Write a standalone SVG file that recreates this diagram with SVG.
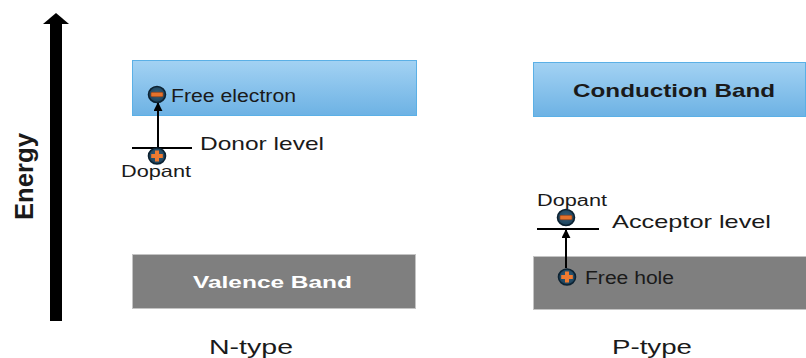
<svg xmlns="http://www.w3.org/2000/svg" width="806" height="358" viewBox="0 0 806 358">
  <defs>
    <linearGradient id="cbFill" x1="0" y1="0" x2="0" y2="1">
      <stop offset="0" stop-color="#a3d2f3"/>
      <stop offset="1" stop-color="#6db2e4"/>
    </linearGradient>
    <radialGradient id="chargeFill" cx="0.5" cy="0.45" r="0.6">
      <stop offset="0" stop-color="#33627f"/>
      <stop offset="1" stop-color="#1a3d55"/>
    </radialGradient>
    <marker id="tip" viewBox="0 0 10 10" refX="9" refY="5" markerWidth="4.5" markerHeight="4.5" orient="auto">
      <path d="M0,0 L10,5 L0,10 z" fill="#000"/>
    </marker>
    <!-- negative charge: dark disc with an orange bar -->
    <g id="neg">
      <ellipse cx="0" cy="0" rx="8.5" ry="8" fill="url(#chargeFill)" stroke="#0c2232" stroke-width="1.6"/>
      <rect x="-6" y="-2.2" width="12" height="4.4" rx="1" fill="#e4722c" stroke="#8f3c12" stroke-width="0.6"/>
    </g>
    <!-- positive charge: dark disc with an orange cross -->
    <g id="pos">
      <ellipse cx="0" cy="0" rx="8.5" ry="8" fill="url(#chargeFill)" stroke="#0c2232" stroke-width="1.6"/>
      <path d="M-2,-5.5 h4 v3.5 h3.8 v4 h-3.8 v3.5 h-4 v-3.5 h-3.8 v-4 h3.8 z" fill="#ee7a30"/>
    </g>
  </defs>
  <style>
    text { font-family: "Liberation Sans", Arial, sans-serif; fill: #1a1a1a; }
    .band-label { font-weight: bold; }
    .cb { fill: url(#cbFill); stroke: #5bb0e6; stroke-width: 1; }
    .vb { fill: #7f7f7f; stroke: #c4c4c4; stroke-width: 1; }
    .level { stroke: #000; stroke-width: 2; }
    .jump { stroke: #000; stroke-width: 2; fill: none; marker-end: url(#tip); }
  </style>

  <rect width="806" height="358" fill="#ffffff"/>

  <!-- energy axis -->
  <g id="energy-axis">
    <rect x="50" y="23" width="12" height="298" fill="#000"/>
    <polygon points="43,24 56,13 69,24" fill="#000"/>
    <text transform="translate(33,220) rotate(-90)" font-size="26" font-weight="bold" textLength="87" lengthAdjust="spacingAndGlyphs">Energy</text>
  </g>

  <!-- n-type bands -->
  <g id="n-conduction-band">
    <rect class="cb" x="132.5" y="60.5" width="284" height="55"/>
  </g>
  <g id="n-valence-band">
    <rect class="vb" x="132.5" y="254.5" width="283" height="54"/>
    <text class="band-label" x="193" y="288" font-size="16.5" style="fill:#ffffff" textLength="159" lengthAdjust="spacingAndGlyphs">Valence Band</text>
  </g>
  <g id="donor-level">
    <line class="level" x1="132" y1="148" x2="192" y2="148"/>
    <text x="200" y="150" font-size="18.5" textLength="124" lengthAdjust="spacingAndGlyphs">Donor level</text>
  </g>

  <!-- p-type bands -->
  <g id="p-conduction-band">
    <rect class="cb" x="533.5" y="62.5" width="272" height="54"/>
    <text class="band-label" x="573" y="97" font-size="19" textLength="202" lengthAdjust="spacingAndGlyphs">Conduction Band</text>
  </g>
  <g id="p-valence-band">
    <rect class="vb" x="533.5" y="256.5" width="273" height="53"/>
  </g>
  <g id="acceptor-level">
    <line class="level" x1="537" y1="229" x2="599" y2="229"/>
    <text x="612" y="228" font-size="18.5" textLength="159" lengthAdjust="spacingAndGlyphs">Acceptor level</text>
  </g>

  <!-- transitions -->
  <g id="connectors">
    <line class="jump" x1="158" y1="148" x2="158" y2="103"/>
    <line class="jump" x1="566" y1="268" x2="566" y2="230"/>
  </g>

  <!-- charges -->
  <g id="free-electron">
    <use href="#neg" x="157" y="94.5"/>
    <text x="171" y="102" font-size="17.5" textLength="125" lengthAdjust="spacingAndGlyphs">Free electron</text>
  </g>
  <g id="n-dopant">
    <use href="#pos" x="157" y="156"/>
    <text x="121" y="177" font-size="16.5" textLength="70" lengthAdjust="spacingAndGlyphs">Dopant</text>
  </g>
  <g id="p-dopant">
    <use href="#neg" x="566" y="217.5"/>
    <text x="537" y="206" font-size="16" textLength="70" lengthAdjust="spacingAndGlyphs">Dopant</text>
  </g>
  <g id="free-hole">
    <use href="#pos" x="567" y="277"/>
    <text x="585" y="284" font-size="17.5" textLength="89" lengthAdjust="spacingAndGlyphs">Free hole</text>
  </g>

  <!-- captions -->
  <g id="n-type-caption">
    <text x="209" y="354" font-size="20" textLength="84" lengthAdjust="spacingAndGlyphs">N-type</text>
  </g>
  <g id="p-type-caption">
    <text x="612" y="354" font-size="20" textLength="80" lengthAdjust="spacingAndGlyphs">P-type</text>
  </g>
</svg>
